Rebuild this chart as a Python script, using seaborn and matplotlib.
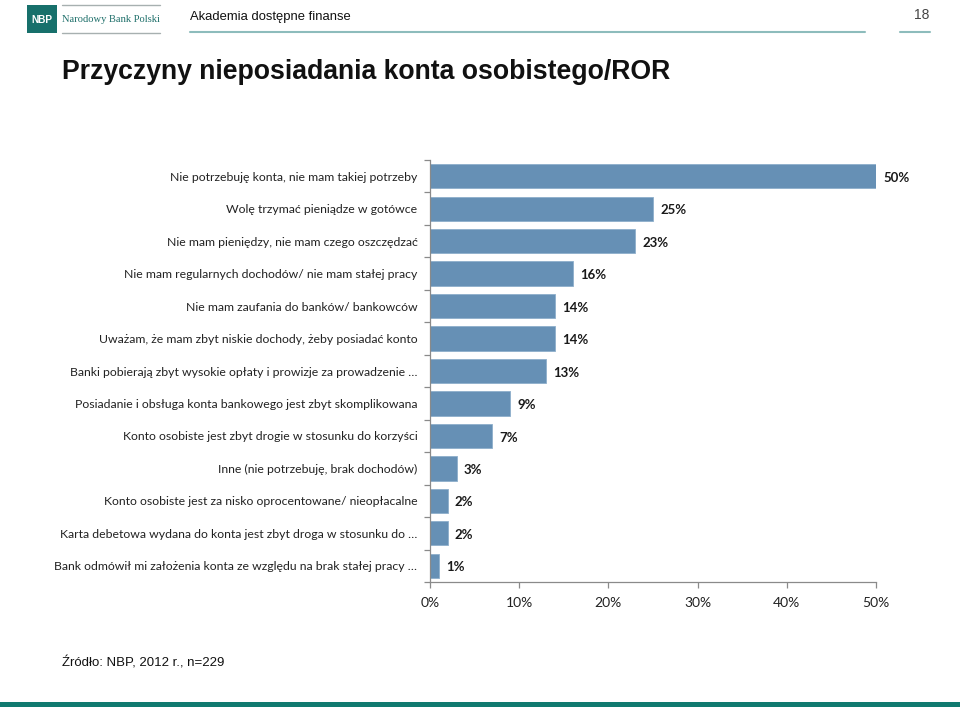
import matplotlib
matplotlib.use("Agg")
import numpy as np
import pandas as pd
import matplotlib.pyplot as plt
import seaborn as sns
from matplotlib.patches import Rectangle
from matplotlib.lines import Line2D
from matplotlib.ticker import FixedLocator, PercentFormatter

# ----------------------------------------
# Data
# ----------------------------------------

categories = [
    "Nie potrzebuję konta, nie mam takiej potrzeby",
    "Wolę trzymać pieniądze w gotówce",
    "Nie mam pieniędzy, nie mam czego oszczędzać",
    "Nie mam regularnych dochodów/ nie mam stałej pracy",
    "Nie mam zaufania do banków/ bankowców",
    "Uważam, że mam zbyt niskie dochody, żeby posiadać konto",
    "Banki pobierają zbyt wysokie opłaty i prowizje za prowadzenie …",
    "Posiadanie i obsługa konta bankowego jest zbyt skomplikowana",
    "Konto osobiste jest zbyt drogie w stosunku do korzyści",
    "Inne (nie potrzebuję, brak dochodów)",
    "Konto osobiste jest za nisko oprocentowane/ nieopłacalne",
    "Karta debetowa wydana do konta jest zbyt droga w stosunku do …",
    "Bank odmówił mi założenia konta ze względu na brak stałej pracy …",
]
values = [50, 25, 23, 16, 14, 14, 13, 9, 7, 3, 2, 2, 1]
xticks = [0, 10, 20, 30, 40, 50]

title = "Przyczyny nieposiadania konta osobistego/ROR"
header = "Akademia dostępne finanse"
page_no = "18"
source = "Źródło: NBP, 2012 r., n=229"

df = pd.DataFrame({"powod": categories, "procent": values})

# ----------------------------------------
# Style
# ----------------------------------------

sns.set_theme(style="white")
plt.rcParams["font.family"] = ["Lato", "DejaVu Sans"]

W, H = 960, 707
BAR = "#6690b5"
AXIS = "#8a8a8a"
TEAL = "#17706b"


def fx(px):
    return px / W


def fy(py):
    return 1 - py / H


fig = plt.figure(figsize=(9.6, 7.07), dpi=100)

# ----------------------------------------
# Bar chart
# ----------------------------------------

ax = fig.add_axes([fx(430), fy(582), fx(876) - fx(430), fy(160) - fy(582)])
sns.barplot(data=df, x="procent", y="powod", color=BAR, saturation=1,
            width=0.75, edgecolor="#8daecb", linewidth=0.6, ax=ax)

ax.set_xlim(0, 50)
ax.set_ylim(len(categories) - 0.5, -0.5)
ax.set_xlabel("")
ax.set_ylabel("")

for side in ["top", "right"]:
    ax.spines[side].set_visible(False)
for side in ["left", "bottom"]:
    ax.spines[side].set_color(AXIS)
    ax.spines[side].set_linewidth(0.9)

ax.xaxis.set_major_locator(FixedLocator(xticks))
ax.xaxis.set_major_formatter(PercentFormatter(xmax=100, decimals=0))
ax.tick_params(axis="x", bottom=True, length=4, width=0.9, color=AXIS,
               labelsize=10, labelcolor="#222222", pad=7)

# category boundaries get the small tick marks, like Excel does
ax.yaxis.set_minor_locator(FixedLocator(np.arange(-0.5, len(categories), 1)))
ax.tick_params(axis="y", which="major", left=False, length=0,
               labelsize=8.85, labelcolor="#222222", pad=9)
ax.tick_params(axis="y", which="minor", left=True, length=4, width=0.9,
               color=AXIS)

for i, v in enumerate(values):
    ax.text(v + 0.8, i + 0.05, f"{v}%", ha="left", va="center",
            fontsize=9.5, fontweight="bold", color="#1a1a1a", clip_on=False)

# ----------------------------------------
# Slide decoration
# ----------------------------------------

fig.add_artist(Rectangle((fx(27), fy(33)), fx(30), 28 / H,
                         transform=fig.transFigure, color=TEAL, lw=0))
fig.text(fx(42), fy(20), "NBP", ha="center", va="center", color="white",
         fontsize=7.3, fontweight="bold", family=["Liberation Sans"])
fig.text(fx(62), fy(19), "Narodowy Bank Polski", ha="left", va="center",
         color="#1e6f6a", fontsize=7.6, family=["Liberation Serif"])
for yy in [5, 33]:
    fig.add_artist(Line2D([fx(62), fx(160)], [fy(yy), fy(yy)],
                          transform=fig.transFigure, color="#a7b0b0", lw=1))

fig.text(fx(190), fy(17), header, ha="left", va="center", color="#111111",
         fontsize=9.4, family=["Liberation Sans"])
fig.add_artist(Line2D([fx(190), fx(865)], [fy(32), fy(32)],
                      transform=fig.transFigure, color="#8dbcbc", lw=1.5))
fig.text(fx(922), fy(15), page_no, ha="center", va="center", color="#444444",
         fontsize=10, family=["Liberation Sans"])
fig.add_artist(Line2D([fx(900), fx(930)], [fy(32), fy(32)],
                      transform=fig.transFigure, color="#8dbcbc", lw=1.5))

fig.text(fx(62), fy(72), title, ha="left", va="center", color="#111111",
         fontsize=19.2, fontweight="bold", family=["Liberation Sans"])

fig.text(fx(62), fy(663), source, ha="left", va="center", color="#111111",
         fontsize=9.5, family=["Liberation Sans"])

fig.add_artist(Rectangle((0, 0), 1, 5 / H, transform=fig.transFigure,
                         color="#107a70", lw=0))

fig.savefig("out.png", dpi=100)
